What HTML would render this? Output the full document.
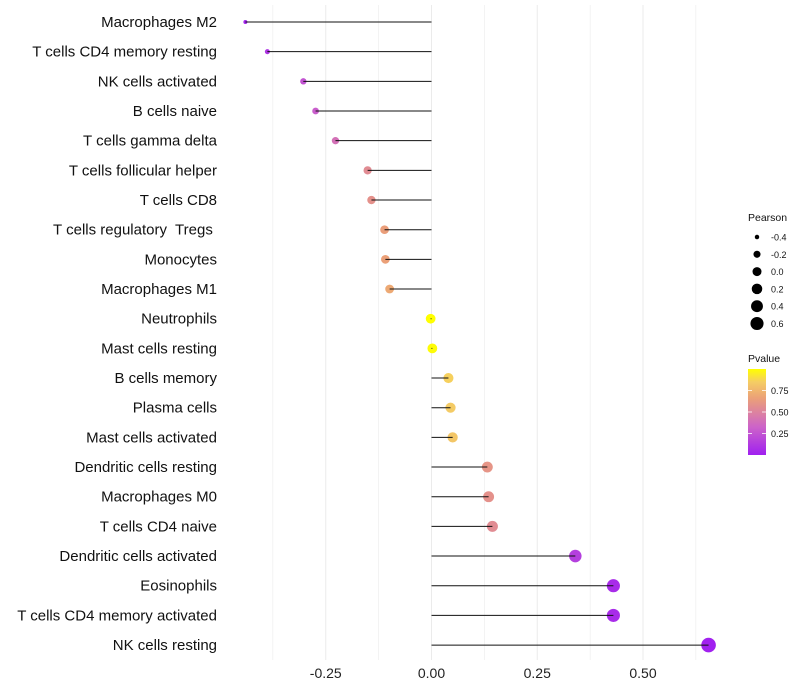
<!DOCTYPE html>
<html><head><meta charset="utf-8"><style>
body{margin:0;background:#fff;font-family:"Liberation Sans",sans-serif;}
svg{display:block}
text{white-space:pre}
</style></head><body>
<svg id="chart" width="800" height="700" xmlns="http://www.w3.org/2000/svg"></svg>
<script>
const categories=["Macrophages M2","T cells CD4 memory resting","NK cells activated","B cells naive","T cells gamma delta","T cells follicular helper","T cells CD8","T cells regulatory  Tregs ","Monocytes","Macrophages M1","Neutrophils","Mast cells resting","B cells memory","Plasma cells","Mast cells activated","Dendritic cells resting","Macrophages M0","T cells CD4 naive","Dendritic cells activated","Eosinophils","T cells CD4 memory activated","NK cells resting"];
const pearson=[-0.44,-0.388,-0.303,-0.274,-0.227,-0.151,-0.142,-0.111,-0.109,-0.099,-0.002,0.002,0.040,0.045,0.050,0.132,0.135,0.144,0.340,0.430,0.430,0.655];
const pvalue=[0.02,0.1,0.25,0.3,0.4,0.55,0.58,0.65,0.66,0.7,1.0,0.99,0.86,0.84,0.82,0.6,0.58,0.55,0.15,0.06,0.06,0.005];
const xTicks=[-0.25,0,0.25,0.5];
const xTickLabels=["-0.25","0.00","0.25","0.50"];
const sizeLegend=[-0.4,-0.2,0.0,0.2,0.4,0.6];
const sizeLegendLabels=["-0.4","-0.2","0.0","0.2","0.4","0.6"];
const pTicks=[0.25,0.5,0.75];

const NS="http://www.w3.org/2000/svg";
const svg=document.getElementById('chart');
function x(v){return 431.5+v*423;}
function y(i){return 22+i*29.67;}
function r(v){return Math.sqrt(Math.max(2,4+45*(v+0.44)));}
function lerp(a,b,t){return Math.round(a+(b-a)*t);}
const stops=[[0,[160,32,240]],[0.33,[205,100,200]],[0.66,[235,160,120]],[0.85,[245,205,100]],[1,[255,255,0]]];
function col(p){for(let k=1;k<stops.length;k++){if(p<=stops[k][0]){const t=(p-stops[k-1][0])/(stops[k][0]-stops[k-1][0]);const a=stops[k-1][1],b=stops[k][1];return `rgb(${lerp(a[0],b[0],t)},${lerp(a[1],b[1],t)},${lerp(a[2],b[2],t)})`;}}return 'rgb(255,255,0)';}
function el(t,a,p){const e=document.createElementNS(NS,t);for(const k in a)e.setAttribute(k,a[k]);(p||svg).appendChild(e);return e;}

for(let v=-0.375;v<=0.63;v+=0.125){
  const g=el('line',{x1:x(v),x2:x(v),y1:5,y2:660,stroke:'#ebebeb','stroke-width':Math.abs((v/0.25)%1)<0.01?1:0.6});
  
  
}
xTicks.forEach((v,i)=>{
  const t=el('text',{x:x(v),y:678,'text-anchor':'middle','font-size':14,fill:'#222'});
  t.textContent=xTickLabels[i];
  
  
});
categories.forEach((c,i)=>{
  const t=el('text',{x:217,y:y(i)+5,'text-anchor':'end','font-size':15,fill:'#111'});
  t.textContent=c;
  
  
  const d=el('circle',{cx:x(pearson[i]),cy:y(i),r:r(pearson[i]),fill:col(pvalue[i])});
  
  
  const l=el('line',{x1:x(0),x2:x(pearson[i]),y1:y(i),y2:y(i),stroke:'#111','stroke-width':1});
  
  
});
let t=el('text',{x:748,y:221,'font-size':10.5,fill:'#111'});t.textContent='Pearson';


sizeLegend.forEach((v,i)=>{
  const cy=237+i*17.3;
  const c=el('circle',{cx:757,cy:cy,r:r(v)*0.92,fill:'#000'});
  
  
  const tt=el('text',{x:771,y:cy+3.5,'font-size':9,fill:'#111'});tt.textContent=sizeLegendLabels[i];
  
  
});
t=el('text',{x:748,y:362,'font-size':10.5,fill:'#111'});t.textContent='Pvalue';


const defs=el('defs',{});
const lg=el('linearGradient',{id:'pg',x1:0,y1:1,x2:0,y2:0},defs);
stops.forEach(s=>el('stop',{offset:s[0],'stop-color':col(s[0])},lg));
const barTop=369,barBot=455;
function py(p){return barBot-p*(barBot-barTop);}
const bar=el('rect',{x:748,y:barTop,width:18,height:barBot-barTop,fill:'url(#pg)'});


pTicks.forEach(p=>{
  el('line',{x1:748,x2:752,y1:py(p),y2:py(p),stroke:'#fff','stroke-width':0.8});
  el('line',{x1:762,x2:766,y1:py(p),y2:py(p),stroke:'#fff','stroke-width':0.8});
  const tt=el('text',{x:771,y:py(p)+3.5,'font-size':9,fill:'#111'});tt.textContent=p.toFixed(2);
  
  
});
</script>
</body></html>
